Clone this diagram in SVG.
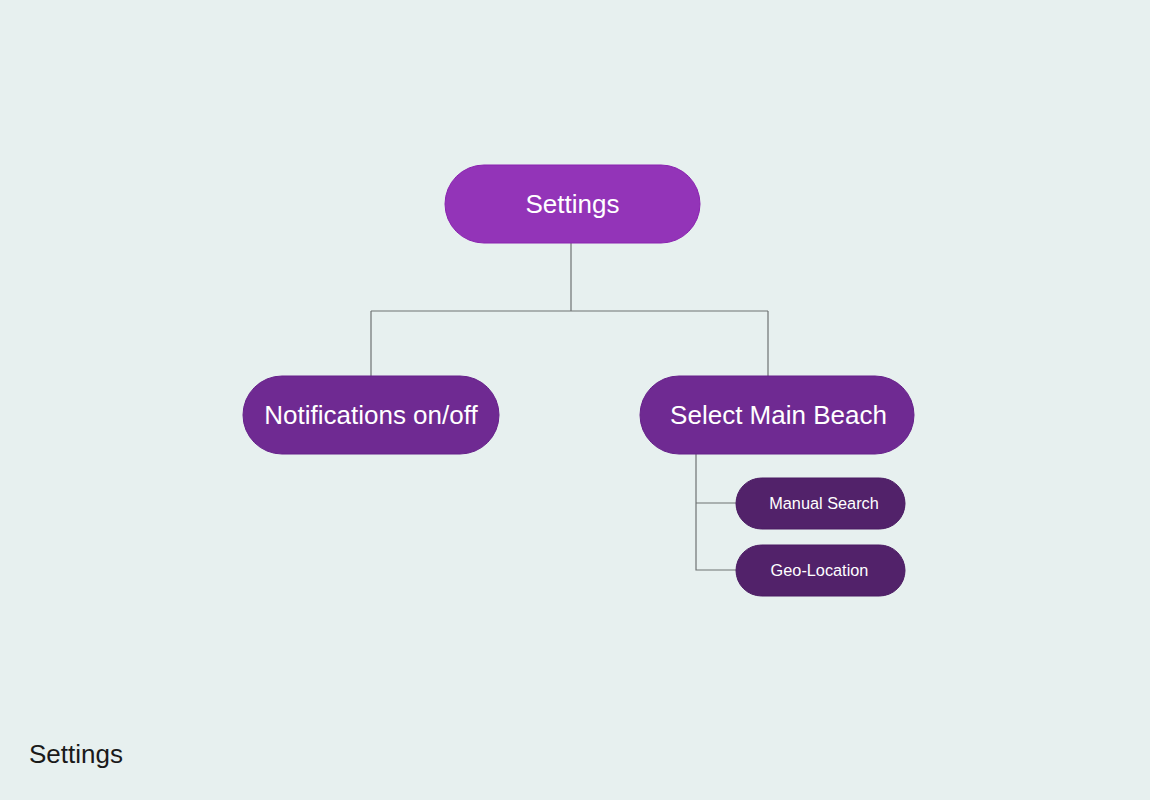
<svg xmlns="http://www.w3.org/2000/svg" width="1150" height="800" viewBox="0 0 1150 800">
<style>
.bg{fill:#E7F0EF}
.t{font-family:"Liberation Sans",Arial,sans-serif;fill:#FFFFFF;text-anchor:middle}
.l1{fill:#9334B8;stroke:#8A22B0;stroke-width:1}
.l2{fill:#6F2A92;stroke:#66208A;stroke-width:1}
.l3{fill:#52226A;stroke:#4A1A62;stroke-width:1}
.c{fill:none;stroke:#6E7272;stroke-width:1.2}
</style>
<rect class="bg" x="0" y="0" width="1150" height="800"/>
<g id="connectors">
<path class="c" d="M571 243 V311 M371 311 H768 M371 311 V376 M768 311 V376"/>
<path class="c" d="M696 454 V570 H736 M696 503 H736"/>
</g>
<g id="settings">
<rect class="l1" x="445" y="165" width="255" height="78" rx="39"/>
<text class="t" x="572.5" y="213" font-size="26">Settings</text>
</g>
<g id="notifications">
<rect class="l2" x="243" y="376" width="256" height="78" rx="39"/>
<text class="t" x="371" y="424" font-size="26">Notifications on/off</text>
</g>
<g id="select-main-beach">
<rect class="l2" x="640" y="376" width="274" height="78" rx="39"/>
<text class="t" x="778.5" y="424" font-size="26">Select Main Beach</text>
</g>
<g id="manual-search">
<rect class="l3" x="736" y="478" width="169" height="51" rx="25.5"/>
<text class="t" x="824" y="509" font-size="16.3">Manual Search</text>
</g>
<g id="geo-location">
<rect class="l3" x="736" y="545" width="169" height="51" rx="25.5"/>
<text class="t" x="819.5" y="576" font-size="16.3">Geo-Location</text>
</g>
<text x="29" y="763" font-family="Liberation Sans,Arial,sans-serif" font-size="26" fill="#1A1A1A">Settings</text>
</svg>
